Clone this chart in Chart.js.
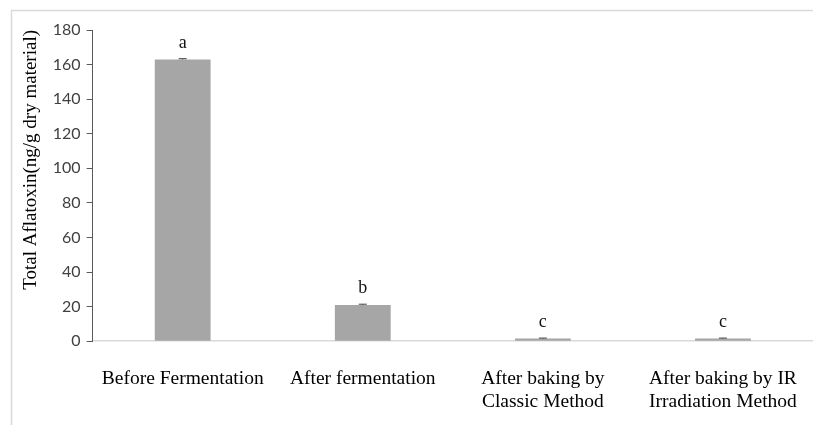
<!DOCTYPE html>
<html><head><meta charset="utf-8">
<script src="https://cdn.jsdelivr.net/npm/chart.js@4.4.1/dist/chart.umd.min.js"></script>
<style>html,body{margin:0;padding:0;background:#fff;}#wrap{width:813px;height:425px;position:relative;}</style>
</head><body>
<div id="wrap"><canvas id="c" width="813" height="425"></canvas></div>
<script>
const categories = [["Before Fermentation"], ["After fermentation"], ["After baking by", "Classic Method"], ["After baking by IR", "Irradiation Method"]];
const values = [163, 21, 1.5, 1.5];
const errors = [0.4, 0.4, 0.3, 0.3];
const letters = ["a", "b", "c", "c"];
const yMin = 0, yMax = 180, yStep = 20;

const decor = {
  id: 'decor',
  beforeDraw(chart) {
    const ctx = chart.ctx;
    ctx.save();
    ctx.strokeStyle = '#d9d9d9';
    ctx.lineWidth = 1.5;
    ctx.beginPath();
    ctx.moveTo(11.5, 425); ctx.lineTo(11.5, 10.5); ctx.lineTo(813, 10.5);
    ctx.stroke();
    ctx.restore();
  },
  afterDatasetsDraw(chart) {
    const ctx = chart.ctx;
    const meta = chart.getDatasetMeta(0);
    const y = chart.scales.y;
    ctx.save();
    meta.data.forEach((bar, i) => {
      const top = y.getPixelForValue(values[i] + errors[i]);
      const bot = y.getPixelForValue(values[i]);
      ctx.strokeStyle = '#404040';
      ctx.lineWidth = 1;
      ctx.beginPath();
      ctx.moveTo(bar.x, bot); ctx.lineTo(bar.x, top);
      ctx.moveTo(bar.x - 4, top); ctx.lineTo(bar.x + 4, top);
      ctx.stroke();
      ctx.fillStyle = '#111';
      ctx.font = '18px "Liberation Serif", "Times New Roman", serif';
      ctx.textAlign = 'center';
      ctx.textBaseline = 'alphabetic';
      ctx.fillText(letters[i], bar.x, top - 11);
    });
    ctx.restore();
  }
};

new Chart(document.getElementById('c'), {
  type: 'bar',
  data: {
    labels: categories,
    datasets: [{ data: values, backgroundColor: '#a6a6a6', borderWidth: 0,
      categoryPercentage: 1, barPercentage: 0.31 }]
  },
  options: {
    responsive: false, animation: false, devicePixelRatio: 1,
    layout: { padding: { left: 20, top: 30, right: -13, bottom: 5 } },
    plugins: { legend: { display: false }, tooltip: { enabled: false } },
    scales: {
      x: {
        grid: { display: true, drawOnChartArea: false, drawTicks: true, tickLength: 20, color: 'rgba(0,0,0,0)' },
        border: { display: true, color: '#d9d9d9', width: 1.5 },
        ticks: { color: '#000', padding: 6, maxRotation: 0, autoSkip: false,
          font: { family: '"Liberation Serif", "Times New Roman", serif', size: 19.5, lineHeight: 1.2 } }
      },
      y: {
        min: yMin, max: yMax,
        grid: { drawOnChartArea: false, drawTicks: true, tickLength: 6, color: '#595959' },
        border: { display: true, color: '#595959', width: 1 },
        ticks: { stepSize: yStep, color: '#404040', padding: 6,
          font: { family: 'Lato, "Open Sans", sans-serif', size: 16 } },
        title: { display: true, text: 'Total Aflatoxin(ng/g dry material)', color: '#000',
          align: 'end', padding: { top: 0, bottom: 4 },
          font: { family: '"Liberation Serif", "Times New Roman", serif', size: 19 } }
      }
    }
  },
  plugins: [decor]
});
</script>
</body></html>
